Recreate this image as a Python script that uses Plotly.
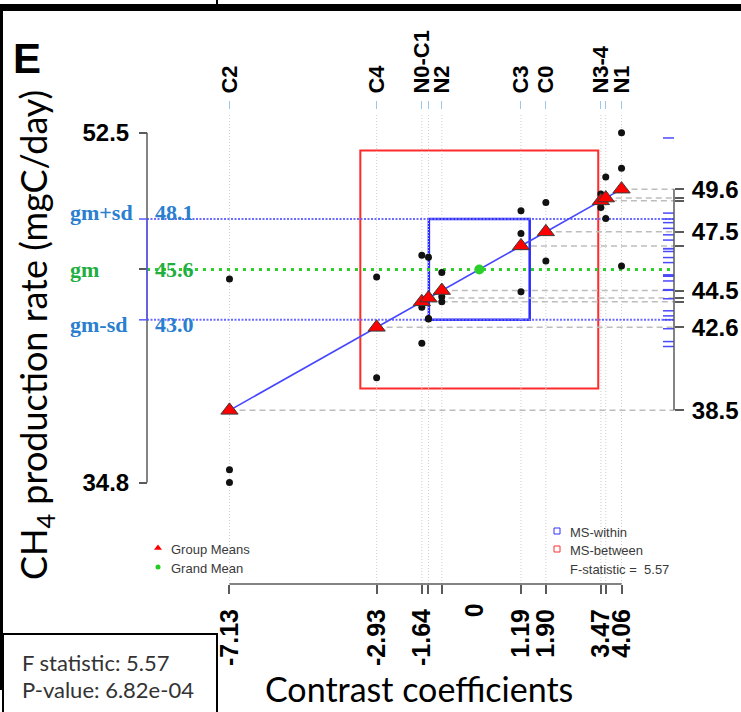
import numpy as np
import plotly.graph_objects as go

# ---------------------------------------------------------------- data
groups = ["C2", "C4", "N0", "C1", "N2", "C3", "C0", "N3", "N4", "N1"]
contrasts = [-7.13, -2.93, -1.64, -1.45, -1.07, 1.19, 1.90, 3.47, 3.61, 4.06]

obs_c2 = [45.10, 35.45, 34.80]
obs_c4 = [45.20, 40.10]
obs_n0 = [46.30, 43.66, 41.84]
obs_c1 = [46.20, 43.07, 43.10]
obs_n2 = [45.43, 44.20, 43.94]
obs_c3 = [48.55, 47.40, 44.45]
obs_c0 = [48.97, 46.00]
obs_n3 = [48.71, 49.40]
obs_n4 = [50.25, 48.15]
obs_n1 = [52.50, 50.70, 45.75]
observations = [obs_c2, obs_c4, obs_n0, obs_c1, obs_n2,
                obs_c3, obs_c0, obs_n3, obs_n4, obs_n1]

grand_mean = 45.58
sd_within = 2.55
f_statistic = 5.57
p_value = 6.82e-4

top_labels = ["C2", "C4", "N0-C1", "", "N2", "C3", "C0", "N3-4", "", "N1"]
bottom_labels = ["-7.13", "-2.93", "-1.64", "", "", "1.19", "1.90", "3.47", "", "4.06"]
mean_labels = ["38.5", "42.6", "", "", "44.5", "", "47.5", "", "", "49.6"]

# ---------------------------------------------------------------- geometry
W, H = 741, 712
X_RANGE = [-13.68, 7.47]
Y_RANGE = [23.19, 59.21]

AX_BOTTOM_PY = 584   # contrast axis
AX_TOP_PY = 109      # group-name axis
AX_LEFT_PX = 147     # response axis
AX_RIGHT_PX = 674    # group-mean axis
RUG_PX = (663, 674)


def fx(px):
    return px / W


def fy(py):
    return 1 - py / H


def xd(px):
    return X_RANGE[0] + (X_RANGE[1] - X_RANGE[0]) * px / W


def yd(py):
    return Y_RANGE[1] - (Y_RANGE[1] - Y_RANGE[0]) * py / H


# y-units shown per x-unit on screen, used to keep the MS squares square
px_per_x = W / (X_RANGE[1] - X_RANGE[0])
px_per_y = H / (Y_RANGE[1] - Y_RANGE[0])
squash = px_per_y / px_per_x

group_means = [grand_mean + c for c in contrasts]
all_obs = [v for o in observations for v in o]
data_min, data_max = min(all_obs), max(all_obs)
ms_between_root = sd_within * np.sqrt(f_statistic)

SANS = "Liberation Sans"
SERIF = "Liberation Serif"
TITLE = "Lato"
BLUE_TXT = "#2a7fcf"
GREEN_TXT = "#1fae3f"

fig = go.Figure()

# vertical guide lines at every contrast
vx, vy = [], []
for c in contrasts:
    vx += [c, c, None]
    vy += [yd(AX_BOTTOM_PY), yd(AX_TOP_PY + 4), None]
fig.add_trace(go.Scatter(x=vx, y=vy, mode="lines",
                         line=dict(color="#cfcfcf", width=1, dash="1px,2px"),
                         hoverinfo="skip"))

# dashed leaders from each group mean to the right-hand axis
dx, dy = [], []
for c, m in zip(contrasts, group_means):
    dx += [c, xd(AX_RIGHT_PX), None]
    dy += [m, m, None]
fig.add_trace(go.Scatter(x=dx, y=dy, mode="lines",
                         line=dict(color="#bdbdbd", width=1.5, dash="6px,4px"),
                         hoverinfo="skip"))

# grand mean and +/- sd reference lines
for val, col, dash, w in [(grand_mean + sd_within, "#6b6bff", "2px,1.5px", 2),
                          (grand_mean - sd_within, "#6b6bff", "2px,1.5px", 2),
                          (grand_mean, "#2ccf2c", "3px,5px", 3)]:
    fig.add_trace(go.Scatter(x=[xd(AX_LEFT_PX), xd(RUG_PX[1])], y=[val, val],
                             mode="lines", line=dict(color=col, width=w, dash=dash),
                             hoverinfo="skip"))

# rug of within-group residuals (shifted to the grand mean)
rx, ry = [], []
for o in observations:
    mu = np.mean(o)
    for v in o:
        r = v - mu + grand_mean
        rx += [xd(RUG_PX[0]), xd(RUG_PX[1]), None]
        ry += [r, r, None]
fig.add_trace(go.Scatter(x=rx, y=ry, mode="lines",
                         line=dict(color="#4a4aff", width=1.5), hoverinfo="skip"))

# MS-between / MS-within squares centred on the grand mean
for half, col, w in [(ms_between_root, "#ff2a2a", 2), (sd_within, "#2a2aff", 2.5)]:
    fig.add_shape(type="rect", xref="x", yref="y", layer="below",
                  x0=-half * squash, x1=half * squash,
                  y0=grand_mean - half, y1=grand_mean + half,
                  line=dict(color=col, width=w), fillcolor="rgba(0,0,0,0)")

# line through the group means
fig.add_trace(go.Scatter(x=contrasts, y=group_means, mode="lines",
                         line=dict(color="#4646ff", width=1.6), hoverinfo="skip"))

# raw observations
ox = [c for c, o in zip(contrasts, observations) for _ in o]
fig.add_trace(go.Scatter(x=ox, y=all_obs, mode="markers",
                         marker=dict(color="#111111", size=7,
                                     line=dict(width=0)),
                         hoverinfo="skip"))

# group means
fig.add_trace(go.Scatter(x=contrasts, y=group_means, mode="markers",
                         marker=dict(symbol="triangle-up", size=15, color="#ff0000",
                                     line=dict(color="#3a3a3a", width=1)),
                         hoverinfo="skip"))

# grand mean
fig.add_trace(go.Scatter(x=[0], y=[grand_mean], mode="markers",
                         marker=dict(color="#2ccf2c", size=10, line=dict(width=0)),
                         hoverinfo="skip"))

# legend keys
fig.add_trace(go.Scatter(x=[xd(158)], y=[yd(548)], mode="markers",
                         marker=dict(symbol="triangle-up", size=7, color="#ff0000",
                                     line=dict(width=0)),
                         hoverinfo="skip"))
fig.add_trace(go.Scatter(x=[xd(158)], y=[yd(567)], mode="markers",
                         marker=dict(size=5, color="#22cc22", line=dict(width=0)),
                         hoverinfo="skip"))
fig.add_trace(go.Scatter(x=[xd(557), xd(557)], y=[yd(531), yd(549)], mode="markers",
                         marker=dict(symbol="square-open", size=6,
                                     color=["#3030ff", "#ff3030"], line=dict(width=1)),
                         hoverinfo="skip"))

# transparent anchors so the group-name and group-mean axes get drawn
fig.add_trace(go.Scatter(x=contrasts, y=group_means, mode="markers", xaxis="x2",
                         marker=dict(opacity=0), hoverinfo="skip"))
fig.add_trace(go.Scatter(x=contrasts, y=group_means, mode="markers", yaxis="y2",
                         marker=dict(opacity=0), hoverinfo="skip"))

# ---------------------------------------------------------------- axis lines
axis_grey = "#5a5a5a"
fig.add_shape(type="line", xref="x", yref="paper",
              x0=min(contrasts), x1=max(contrasts),
              y0=fy(AX_BOTTOM_PY), y1=fy(AX_BOTTOM_PY),
              line=dict(color=axis_grey, width=1.5))
fig.add_shape(type="line", xref="paper", yref="y",
              x0=fx(AX_LEFT_PX), x1=fx(AX_LEFT_PX), y0=data_min, y1=data_max,
              line=dict(color=axis_grey, width=1.5))
fig.add_shape(type="line", xref="paper", yref="y",
              x0=fx(AX_LEFT_PX), x1=fx(AX_LEFT_PX),
              y0=grand_mean - sd_within, y1=grand_mean + sd_within,
              line=dict(color="#5a5aff", width=1.5))
for val in (grand_mean - sd_within, grand_mean + sd_within):
    fig.add_shape(type="line", xref="paper", yref="y",
                  x0=fx(AX_LEFT_PX - 8), x1=fx(AX_LEFT_PX), y0=val, y1=val,
                  line=dict(color="#5a5aff", width=1.5))
fig.add_shape(type="line", xref="paper", yref="y",
              x0=fx(AX_RIGHT_PX), x1=fx(AX_RIGHT_PX),
              y0=min(group_means), y1=max(group_means),
              line=dict(color=axis_grey, width=1.5))

# ---------------------------------------------------------------- panel frame
fig.add_shape(type="rect", xref="paper", yref="paper",
              x0=0, x1=1, y0=fy(11), y1=fy(4),
              line=dict(width=0), fillcolor="black")
fig.add_shape(type="line", xref="paper", yref="paper",
              x0=fx(217), x1=fx(217), y0=fy(4), y1=1,
              line=dict(color="black", width=2))
fig.add_shape(type="line", xref="paper", yref="paper",
              x0=fx(1.5), x1=fx(1.5), y0=fy(690), y1=fy(4),
              line=dict(color="black", width=3))
fig.add_shape(type="rect", xref="paper", yref="paper",
              x0=fx(3), x1=fx(217), y0=fy(720), y1=fy(634),
              line=dict(color="black", width=2), fillcolor="white")

# ---------------------------------------------------------------- text
ann = []
ann.append(dict(text="<b>E</b>", x=fx(11), y=fy(59), xref="paper", yref="paper",
                xanchor="left", yanchor="middle", showarrow=False,
                font=dict(family=SANS, size=42, color="black")))
ann.append(dict(text="CH<sub>4</sub> production rate (mgC/day)", x=fx(35), y=fy(335),
                xref="paper", yref="paper", textangle=-90, showarrow=False,
                xanchor="center", yanchor="middle",
                font=dict(family=TITLE, size=36, color="black")))
ann.append(dict(text="Contrast coefficients", x=fx(419), y=fy(688),
                xref="paper", yref="paper", showarrow=False,
                xanchor="center", yanchor="middle",
                font=dict(family=TITLE, size=34, color="black")))
ann.append(dict(text=f"F statistic: {f_statistic:.2f}", x=fx(20), y=fy(662),
                xref="paper", yref="paper", showarrow=False,
                xanchor="left", yanchor="middle",
                font=dict(family=TITLE, size=22, color="#333333")))
ann.append(dict(text=f"P-value: {p_value:.2e}", x=fx(20), y=fy(689),
                xref="paper", yref="paper", showarrow=False,
                xanchor="left", yanchor="middle",
                font=dict(family=TITLE, size=22, color="#333333")))

# grand mean / sd labels on the left axis
for name, val, col, shift in [("gm+sd", grand_mean + sd_within, BLUE_TXT, 7),
                              ("gm", grand_mean, GREEN_TXT, 0),
                              ("gm-sd", grand_mean - sd_within, BLUE_TXT, -5)]:
    ann.append(dict(text=f"<b>{name}</b>", x=fx(68), y=val, xref="paper", yref="y",
                    xanchor="left", yanchor="middle", yshift=shift, showarrow=False,
                    font=dict(family=SERIF, size=22, color=col)))
    ann.append(dict(text=f"<b>{val:.1f}</b>", x=fx(153), y=val, xref="paper", yref="y",
                    xanchor="left", yanchor="middle", yshift=shift, showarrow=False,
                    font=dict(family=SERIF, size=22, color=col)))

# zero on the contrast axis
ann.append(dict(text="<b>0</b>", x=0, y=fy(AX_BOTTOM_PY + 17), xref="x", yref="paper",
                xanchor="center", yanchor="top", textangle=-90, xshift=-5,
                showarrow=False, font=dict(family=SANS, size=25, color="black")))

# legends
for txt, px, py in [("Group Means", 169, 549), ("Grand Mean", 169, 568),
                    ("MS-within", 568, 532), ("MS-between", 568, 550),
                    (f"F-statistic = &nbsp;{f_statistic:.2f}", 568, 569)]:
    ann.append(dict(text=txt, x=fx(px), y=fy(py), xref="paper", yref="paper",
                    xanchor="left", yanchor="middle", showarrow=False,
                    font=dict(family=SANS, size=13, color="#3a3a3a")))

fig.update_layout(
    width=W, height=H, margin=dict(l=0, r=0, t=0, b=0, pad=0),
    paper_bgcolor="white", plot_bgcolor="white", showlegend=False,
    annotations=ann,
    xaxis=dict(range=X_RANGE, anchor="free", position=fy(AX_BOTTOM_PY),
               showgrid=False, zeroline=False, showline=False,
               tickmode="array", tickvals=contrasts, ticktext=bottom_labels,
               ticks="outside", ticklen=9, tickwidth=1.5, tickcolor=axis_grey,
               tickangle=-90, ticklabelstandoff=5,
               tickfont=dict(family=SANS, size=25, color="black", weight="bold")),
    xaxis2=dict(range=X_RANGE, overlaying="x", side="top", anchor="free",
                position=fy(AX_TOP_PY),
                showgrid=False, zeroline=False, showline=False,
                tickmode="array", tickvals=contrasts, ticktext=top_labels,
                ticks="outside", ticklen=8, tickwidth=1.2, tickcolor="#9cc6ea",
                tickangle=-90, ticklabelstandoff=3,
                tickfont=dict(family=SANS, size=22, color="black", weight="bold")),
    yaxis=dict(range=Y_RANGE, anchor="free", position=fx(AX_LEFT_PX),
               showgrid=False, zeroline=False, showline=False,
               tickmode="array", tickvals=[data_max, grand_mean, data_min],
               ticktext=[f"{data_max:.1f}", "", f"{data_min:.1f}"],
               ticks="outside", ticklen=8, tickwidth=1.5, tickcolor=axis_grey,
               ticklabelstandoff=5,
               tickfont=dict(family=SANS, size=24, color="black", weight="bold")),
    yaxis2=dict(range=Y_RANGE, overlaying="y", side="right", anchor="free",
                position=fx(AX_RIGHT_PX),
                showgrid=False, zeroline=False, showline=False,
                tickmode="array", tickvals=group_means, ticktext=mean_labels,
                ticks="outside", ticklen=9, tickwidth=1.5, tickcolor=axis_grey,
                ticklabelstandoff=3,
                tickfont=dict(family=SANS, size=24, color="black", weight="bold")),
)

fig.write_html("out.html")
